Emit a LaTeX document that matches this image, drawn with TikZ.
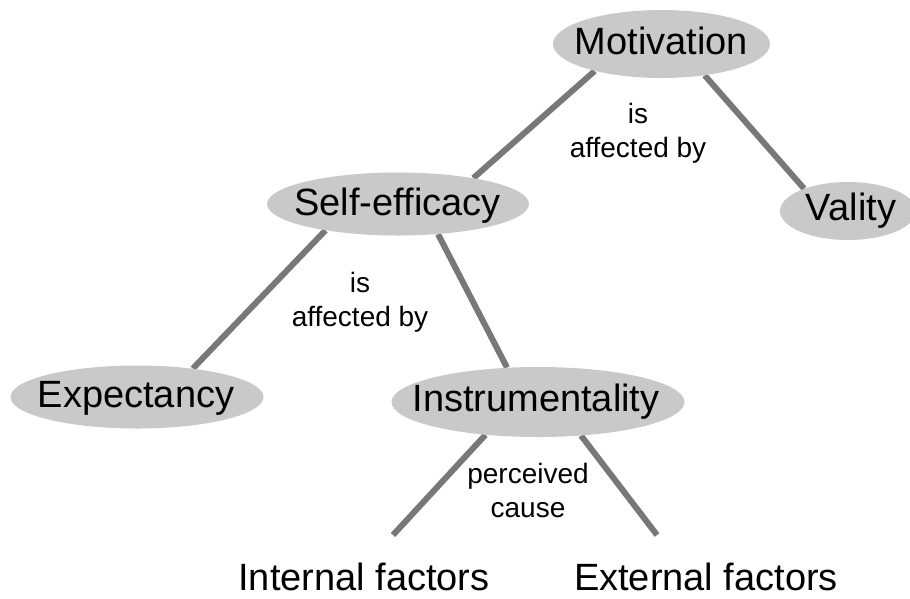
\documentclass[tikz,border=0pt]{standalone}
\usepackage{fontspec}
\setmainfont{Liberation Sans}
\usetikzlibrary{shapes.geometric,backgrounds}
\definecolor{nodefill}{RGB}{201,201,201}
\definecolor{linkgray}{RGB}{120,120,120}
\begin{document}
\begin{tikzpicture}[x=1pt,y=-1pt,
  bubble/.style={ellipse, fill=nodefill, draw=none, inner sep=0pt},
  word/.style={font=\fontsize{38}{40}\selectfont, inner sep=0pt, text height=27.2pt, text depth=0pt},
  rel/.style={font=\fontsize{28}{34}\selectfont, align=center, inner sep=0pt, anchor=north},
  link/.style={draw=linkgray, line width=6pt}]
\useasboundingbox (0,0) rectangle (910,598);
% bubbles
\node[bubble, minimum width=217pt, minimum height=68pt] (mot) at (661.5,44) {};
\node[bubble, minimum width=136pt, minimum height=58pt] (val) at (848,211) {};
\node[bubble, minimum width=262pt, minimum height=63pt] (self) at (398,204) {};
\node[bubble, minimum width=253pt, minimum height=63pt] (exp) at (137,397) {};
\node[bubble, minimum width=293pt, minimum height=70pt] (ins) at (538,402) {};
% texts
\node[word] (mot-t) at (661.5,40.5) {Motivation};
\node[word] (val-t) at (851,206.5) {Vality};
\node[word] (self-t) at (397.5,201.5) {Self-efficacy};
\node[word] (exp-t) at (136,393.5) {Expectancy};
\node[word] (ins-t) at (536,397.5) {Instrumentality};
\node[word, anchor=base] (int) at (364,590) {Internal factors};
\node[word, anchor=base] (ext) at (706,590) {External factors};
% free ends
\coordinate (intend) at (393,535);
\coordinate (extend) at (657,535);
% connectors
\begin{scope}[on background layer]
\draw[link] (mot.202) -- (self.19);
\draw[link] (mot.-36) -- (val.153);
\draw[link] (self.200) -- (exp.27);
\draw[link] (self.-37) -- (ins.132);
\draw[link] (ins.212) -- (intend);
\draw[link] (ins.-38) -- (extend);
\end{scope}
% relation labels
\node[rel] (l1) at (638,103) {is\\affected by};
\node[rel] (l2) at (360,272) {is\\affected by};
\node[rel] (l3) at (528,463) {perceived\\cause};
\end{tikzpicture}
\end{document}
